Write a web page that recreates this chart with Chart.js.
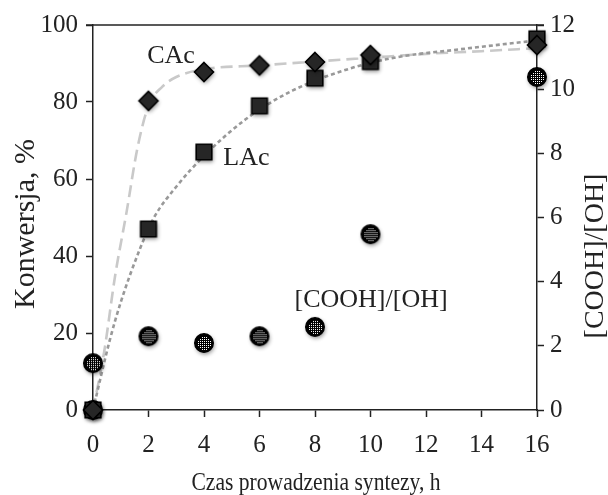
<!DOCTYPE html>
<html>
<head>
<meta charset="utf-8">
<script src="https://cdn.jsdelivr.net/npm/chart.js@4.4.1/dist/chart.umd.min.js"></script>
<style>
html,body{margin:0;padding:0;background:#fff;}
#wrap{width:608px;height:495px;position:relative;}
</style>
</head>
<body>
<div id="wrap"><canvas id="c" width="608" height="495"></canvas></div>
<script>
// ---- data ----
const timeH = [0, 2, 4, 6, 8, 10, 16];
const cacConv = [0, 80.3, 87.8, 89.5, 90.4, 92.2, 94.8];
const lacConv = [0, 47, 67, 79, 86.2, 90.5, 96.4];
const ratioTime = [0, 0, 2, 4, 6, 8, 10, 16];
const ratioVals = [0, 1.46, 2.3, 2.09, 2.3, 2.59, 5.48, 10.38];
// trend lines
const cacTrendX = [0, 0.4, 0.8, 1.2, 1.6, 2, 2.5, 3, 4, 6, 8, 10, 12, 14, 16];
const cacTrendY = [0, 15, 35, 51, 68, 79, 84, 86.5, 88.5, 89.5, 90.5, 91.5, 92.5, 93.2, 94];
const lacTrendX = [0, 0.6, 1, 1.7, 2.2, 3, 4, 5.5, 7.2, 9.4, 11, 13, 16];
const lacTrendY = [0, 18, 28, 42, 50, 58, 66, 75.5, 83, 89, 91.7, 93.5, 96];
const xTicks = [0, 2, 4, 6, 8, 10, 12, 14, 16];
const leftTicks = [0, 20, 40, 60, 80, 100];
const rightTicks = [0, 2, 4, 6, 8, 10, 12];

const pts = (xs, ys) => xs.map((x, i) => ({x: x, y: ys[i]}));

function makeMarker(kind) {
  const s = 32, c = document.createElement('canvas');
  c.width = s; c.height = s;
  const g = c.getContext('2d');
  g.shadowColor = 'rgba(0,0,0,0.45)';
  g.shadowBlur = 4; g.shadowOffsetX = 1; g.shadowOffsetY = 2;
  g.fillStyle = '#262626'; g.strokeStyle = '#000'; g.lineWidth = 1.6;
  const m = s / 2;
  g.beginPath();
  if (kind === 'diamond') {
    const r = 9.5;
    g.moveTo(m, m - r); g.lineTo(m + r, m); g.lineTo(m, m + r); g.lineTo(m - r, m); g.closePath();
  } else if (kind === 'square') {
    const r = 7.8;
    g.rect(m - r, m - r, 2 * r, 2 * r);
  } else {
    g.arc(m, m, 9.2, 0, Math.PI * 2);
    g.fillStyle = '#000';
  }
  g.fill();
  g.shadowColor = 'transparent';
  g.stroke();
  if (kind === 'circle') {
    g.fillStyle = '#fff';
    for (let yy = -6; yy <= 6; yy += 2) {
      for (let xx = -6; xx <= 6; xx += 2) {
        if (xx * xx + yy * yy <= 40) g.fillRect(m + xx, m + yy, 1, 1);
      }
    }
  }
  return c;
}

const FONT = "'Liberation Serif', 'Times New Roman', serif";

const overlay = {
  id: 'overlay',
  afterDraw(chart) {
    const ctx = chart.ctx, a = chart.chartArea;
    const x = chart.scales.x, y = chart.scales.y;
    ctx.save();
    ctx.strokeStyle = '#222'; ctx.lineWidth = 1.5;
    ctx.beginPath(); ctx.moveTo(a.left - 7, a.top); ctx.lineTo(a.right + 7, a.top); ctx.stroke();
    ctx.fillStyle = '#222';
    ctx.font = '26px ' + FONT;
    ctx.textAlign = 'center'; ctx.textBaseline = 'alphabetic';
    ctx.fillText('CAc', x.getPixelForValue(2.81), y.getPixelForValue(90.1));
    ctx.fillText('LAc', x.getPixelForValue(5.53), y.getPixelForValue(63.6));
    ctx.fillText('[COOH]/[OH]', x.getPixelForValue(10.02), y.getPixelForValue(26.7));
    // x title (narrow face)
    ctx.save(); ctx.translate((a.left + a.right) / 2 + 1, 490); ctx.scale(0.83, 1);
    ctx.font = '26px ' + FONT; ctx.fillText('Czas prowadzenia syntezy, h', 0, 0); ctx.restore();
    ctx.font = '30px ' + FONT;
    ctx.save(); ctx.translate(34, 224); ctx.rotate(-Math.PI / 2);
    ctx.fillText('Konwersja, %', 0, 0); ctx.restore();
    ctx.save(); ctx.translate(603, 256); ctx.rotate(-Math.PI / 2);
    ctx.font = '28px ' + FONT;
    ctx.fillText('[COOH]/[OH]', 0, 0); ctx.restore();
    ctx.restore();
  }
};

new Chart(document.getElementById('c'), {
  type: 'scatter',
  data: {
    datasets: [
      {label: 'CAc trend', data: pts(cacTrendX, cacTrendY), showLine: true, pointRadius: 0,
       borderColor: '#c9c9c9', borderWidth: 2.6, borderDash: [12, 6], cubicInterpolationMode: 'monotone', yAxisID: 'y', order: 5},
      {label: 'LAc trend', data: pts(lacTrendX, lacTrendY), showLine: true, pointRadius: 0,
       borderColor: '#999', borderWidth: 2.6, borderDash: [4, 3], cubicInterpolationMode: 'monotone', yAxisID: 'y', order: 4},
      {label: '[COOH]/[OH]', data: pts(ratioTime, ratioVals), pointStyle: makeMarker('circle'), yAxisID: 'y2', order: 3, clip: false},
      {label: 'LAc', data: pts(timeH, lacConv), pointStyle: makeMarker('square'), yAxisID: 'y', order: 2, clip: false},
      {label: 'CAc', data: pts(timeH, cacConv), pointStyle: makeMarker('diamond'), yAxisID: 'y', order: 1, clip: false}
    ]
  },
  options: {
    responsive: false, animation: false,
    layout: {padding: {top: 25, left: 0, right: 0, bottom: 0}},
    plugins: {legend: {display: false}, tooltip: {enabled: false}},
    scales: {
      x: {
        type: 'linear', min: 0, max: 16,
        afterBuildTicks: s => { s.ticks = xTicks.map(v => ({value: v})); },
        afterFit: s => { s.height = 85; },
        grid: {drawOnChartArea: false, tickLength: 7, tickColor: '#222', tickWidth: 1.5},
        border: {color: '#222', width: 1.5},
        ticks: {color: '#222', font: {family: FONT, size: 25}, padding: 13, maxRotation: 0}
      },
      y: {
        position: 'left', min: 0, max: 100,
        afterBuildTicks: s => { s.ticks = leftTicks.map(v => ({value: v})); },
        afterFit: s => { s.width = 93; },
        grid: {drawOnChartArea: false, tickLength: 7, tickColor: '#222', tickWidth: 1.5},
        border: {color: '#222', width: 1.5},
        ticks: {color: '#222', font: {family: FONT, size: 25}, padding: 8}
      },
      y2: {
        position: 'right', min: 0, max: 12,
        afterBuildTicks: s => { s.ticks = rightTicks.map(v => ({value: v})); },
        afterFit: s => { s.width = 71; },
        grid: {drawOnChartArea: false, tickLength: 7, tickColor: '#222', tickWidth: 1.5},
        border: {color: '#222', width: 1.5},
        ticks: {color: '#222', font: {family: FONT, size: 25}, padding: 6}
      }
    }
  },
  plugins: [overlay]
});
</script>
</body>
</html>
